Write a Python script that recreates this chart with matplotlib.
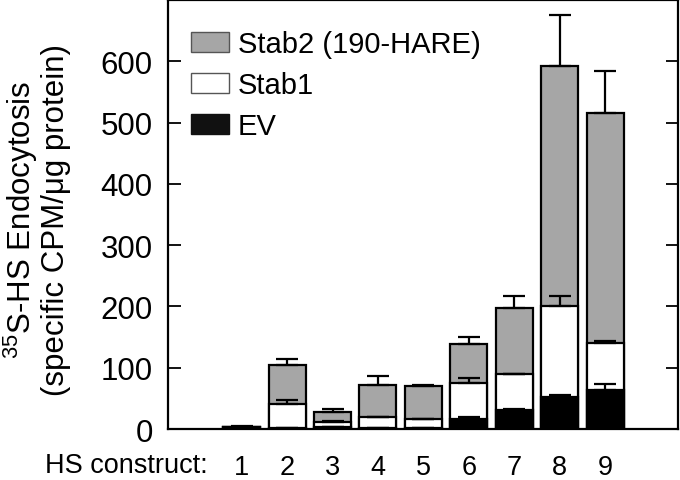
import numpy as np
import matplotlib.pyplot as plt
from matplotlib.patches import Patch

plt.rcParams['font.family'] = ['Liberation Sans', 'DejaVu Sans']
plt.rcParams['mathtext.fontset'] = 'custom'
plt.rcParams['mathtext.rm'] = 'Liberation Sans'

constructs = ['1', '2', '3', '4', '5', '6', '7', '8', '9']
stab2 = [3, 104, 28, 71, 70, 138, 198, 593, 515]
stab2_err = [0, 11, 5, 16, 2, 12, 19, 82, 69]
stab1 = [3, 40, 11, 19, 17, 75, 90, 201, 141]
stab1_err = [0, 7, 2, 0, 0, 9, 0, 16, 3]
ev = [4, 2, 3, 2, 2, 17, 31, 53, 64]
ev_err = [1, 0, 0, 0, 0, 2, 1, 3, 10]

x = np.arange(1, len(constructs) + 1)
gray = '#a6a6a6'
w = 0.815

fig = plt.figure(figsize=(6.8, 4.81), dpi=100)
ax = fig.add_axes([0.247, 0.106, 0.75, 0.892])

err_kw = dict(ecolor='black', elinewidth=1.6, capsize=8, capthick=1.6)
for vals, errs, col in [(stab2, stab2_err, gray), (stab1, stab1_err, 'white'), (ev, ev_err, 'black')]:
    ax.bar(x, vals, width=w, color=col, edgecolor='black', linewidth=1.6,
           yerr=[np.zeros(len(errs)), errs], error_kw=err_kw)

ax.set_xlim(-0.62, 10.6)
ax.set_ylim(0, 700)
ax.set_yticks(range(0, 700, 100))
ax.tick_params(axis='y', which='both', direction='in', length=9, width=1.3,
               labelsize=22.5, right=True, pad=11)
ax.set_xticks(x)
ax.set_xticklabels(constructs)
ax.tick_params(axis='x', length=0, labelsize=19.5, pad=18)
for s in ax.spines.values():
    s.set_linewidth(1.6)

ax.text(0.078, -0.085, 'HS construct:', transform=ax.transAxes, ha='right', va='center', fontsize=19.5)

ax.set_ylabel('$^{35}$S-HS Endocytosis\n(specific CPM/\u03bcg protein)', fontsize=22.5,
              linespacing=1.05)
ax.yaxis.set_label_coords(-0.19, 0.49)

handles = [Patch(facecolor=gray, edgecolor='#555555', linewidth=1),
           Patch(facecolor='white', edgecolor='#555555', linewidth=1),
           Patch(facecolor='#111111', edgecolor='#111111', linewidth=1)]
ax.legend(handles, ['Stab2 (190-HARE)', 'Stab1', 'EV'], loc='upper left',
          bbox_to_anchor=(0.045, 0.93), frameon=False, fontsize=21,
          handlelength=1.3, handleheight=0.7, handletextpad=0.3,
          labelspacing=0.45, borderaxespad=0, borderpad=0)

fig.savefig('out.png', dpi=100)
